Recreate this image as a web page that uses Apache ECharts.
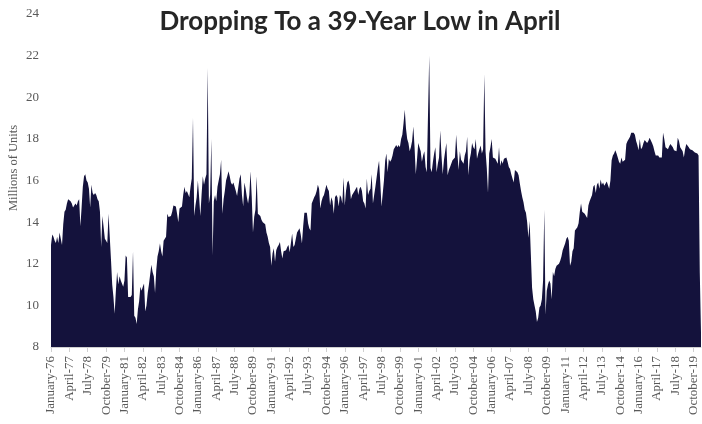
<!DOCTYPE html>
<html>
<head>
<meta charset="utf-8">
<script src="https://cdn.jsdelivr.net/npm/echarts@6/dist/echarts.min.js"></script>
<style>
  html, body { margin: 0; padding: 0; background: #ffffff; }
  #chart { width: 702px; height: 424px; }
</style>
</head>
<body>
<div id="chart"></div>
<script>
// Light vehicle sales, seasonally adjusted annual rate (millions of units), monthly.
const startYear = 1976;
const monthNames = ['January', 'February', 'March', 'April', 'May', 'June',
  'July', 'August', 'September', 'October', 'November', 'December'];

const sales1976to1979 = [
  12.9, 13.4, 13.3, 13.1, 13.0, 13.3, 13.0, 13.5, 13.5, 12.9, 13.9, 14.5,
  14.6, 14.9, 15.1, 15.1, 15.0, 14.9, 14.7, 14.8, 14.9, 14.8, 15.0, 15.1,
  13.8, 14.7, 15.7, 16.2, 16.3, 16.0, 15.9, 15.6, 14.7, 15.8, 15.4, 15.3,
  15.4, 15.3, 15.1, 15.0, 14.5, 12.8, 14.3, 14.3, 13.2, 13.1, 13.0, 14.4
];
const sales1980s = [
  13.3, 12.2, 11.0, 10.4, 9.6, 10.7, 11.6, 11.0, 11.4, 11.2, 11.2, 10.9,
  11.2, 12.4, 12.3, 10.4, 10.4, 10.4, 10.5, 12.6, 9.5, 9.4, 9.1, 9.8,
  10.2, 10.9, 10.7, 10.9, 11.05, 9.7, 10.0, 10.6, 11.0, 11.05, 11.95, 11.6,
  11.4, 10.6, 11.7, 12.35, 12.6, 12.97, 12.6, 12.35, 13.1, 13.2, 13.3, 14.4,
  14.25, 14.3, 14.3, 14.5, 14.8, 14.75, 14.75, 14.4, 14.0, 14.65, 14.7, 14.75,
  15.3, 15.7, 15.4, 15.5, 15.5, 15.2, 15.7, 16.1, 19.0, 14.3, 14.8, 15.2,
  16.0, 15.2, 14.3, 15.3, 16.2, 15.8, 16.1, 16.3, 21.4, 14.9, 15.3, 18.0,
  12.4, 15.0, 15.3, 15.0, 15.7, 16.0, 16.3, 17.0, 14.4, 15.1, 15.5, 16.0,
  16.2, 16.45, 16.2, 15.9, 15.8, 15.9, 15.7, 15.5, 15.25, 15.2, 16.1, 16.3,
  15.3, 14.75, 15.9, 15.6, 15.2, 14.9, 15.3, 16.45, 15.2, 13.5, 14.25, 14.6
];
const sales1990s = [
  16.2, 14.4, 14.35, 14.3, 14.1, 14.0, 14.0, 13.9, 13.5, 13.3, 13.0, 12.8,
  11.9, 12.5, 12.75, 12.1, 12.65, 12.8, 12.9, 13.05, 12.6, 12.25, 12.6, 12.65,
  12.65, 12.8, 12.9, 12.55, 12.6, 13.45, 12.8, 12.9, 12.97, 13.5, 13.6, 13.7,
  13.4, 12.97, 13.8, 14.45, 14.45, 14.45, 13.95, 13.7, 13.6, 14.9, 14.9, 15.2,
  15.3, 15.5, 15.8, 15.6, 14.65, 15.0, 15.2, 15.3, 15.3, 15.8, 15.6, 15.5,
  14.8, 15.2, 15.0, 14.4, 15.2, 15.3, 15.2, 14.75, 15.3, 15.2, 14.9, 16.15,
  14.8, 15.5, 15.9, 16.0, 15.75, 15.1, 15.3, 15.4, 15.5, 15.6, 15.7, 15.3,
  15.6, 15.7, 15.5, 15.0, 14.9, 14.65, 16.1, 15.3, 15.5, 15.6, 16.3, 14.9,
  15.3, 15.7, 16.15, 16.6, 16.95, 15.9, 14.75, 14.8, 16.0, 16.95, 17.3, 16.4,
  17.05, 16.9, 17.0, 17.2, 17.5, 17.6, 17.7, 17.6, 17.7, 17.6, 18.0, 18.2
];
const sales2000s = [
  18.75, 19.4, 18.5, 18.0, 17.8, 17.4, 17.6, 17.9, 18.6, 17.6, 16.3, 17.0,
  17.8, 17.6, 17.4, 16.9, 17.2, 17.4, 16.65, 16.4, 16.4, 22.0, 16.6, 16.4,
  16.9, 17.3, 17.6, 16.4, 16.8, 17.1, 18.4, 17.2, 16.3, 16.97, 17.4, 17.8,
  16.25, 16.5, 16.65, 16.65, 16.97, 17.05, 17.1, 18.2, 17.3, 16.5, 17.4, 17.0,
  16.97, 16.8, 17.2, 17.4, 18.1, 16.25, 17.0, 17.3, 17.8, 17.6, 17.5, 18.0,
  17.05, 17.3, 17.5, 17.68, 17.3, 17.5, 21.1, 17.4, 16.6, 15.4, 17.3, 17.6,
  18.0, 17.1, 17.05, 17.05, 17.0, 16.8, 17.6, 16.7, 16.97, 16.8, 17.05, 17.05,
  17.1, 16.9, 16.65, 16.55, 16.3, 16.1, 15.9, 16.5, 16.5, 16.4, 16.25, 15.85,
  15.5, 15.2, 14.95, 14.6, 14.45, 14.0, 13.25, 14.05, 12.45, 10.85, 10.3, 10.0,
  9.7, 9.2, 9.4, 9.9, 10.0, 10.3, 11.2, 14.6, 9.55, 10.7, 11.0, 11.2
];
const sales2010s = [
  11.05, 10.3, 11.6, 11.4, 11.75, 11.9, 11.9, 12.0, 12.15, 12.35, 12.65, 12.7,
  12.97, 13.2, 13.3, 13.1, 11.9, 12.1, 12.6, 12.75, 13.6, 13.6, 13.75, 13.95,
  14.5, 14.9, 14.5, 14.5, 14.4, 14.4, 14.2, 14.8, 15.0, 15.0, 15.3, 15.7,
  15.8, 15.4, 15.8, 15.9, 15.6, 16.05, 15.8, 15.9, 15.75, 15.7, 15.95, 15.9,
  15.6, 16.0, 16.97, 17.2, 17.3, 17.45, 17.3, 17.1, 16.9, 16.8, 17.1, 16.9,
  16.97, 17.0, 17.75, 17.9, 18.0, 18.1, 18.3, 18.3, 18.3, 18.2, 17.9, 17.7,
  17.45, 18.0, 17.5, 17.6, 17.8, 17.95, 17.95, 17.8, 17.9, 18.05, 18.0, 17.8,
  17.65, 17.4, 17.2, 17.2, 17.2, 17.1, 17.1, 17.1, 18.3, 18.0, 17.6, 17.6,
  17.5, 17.65, 17.75, 17.7, 17.6, 17.45, 17.4, 17.4, 18.05, 17.9, 17.6, 17.5,
  17.4, 17.1, 17.5, 17.75, 17.75, 17.6, 17.5, 17.5, 17.45, 17.4, 17.35, 17.3
];
const sales2020 = [17.3, 17.2, 11.6, 8.7];

const yTicks = { min: 8, max: 24, step: 2 };
const labelEvery = 15; // one axis label every 15 months

const sales = [].concat(sales1976to1979, sales1980s, sales1990s, sales2000s, sales2010s, sales2020);
const months = sales.map((_, i) => {
  const y = startYear + Math.floor(i / 12);
  return monthNames[i % 12] + '-' + String(y % 100).padStart(2, '0');
});

const chart = echarts.init(document.getElementById('chart'), null, { renderer: 'canvas' });
const serif = '"Liberation Serif", "DejaVu Serif", serif';

chart.setOption({
  animation: false,
  backgroundColor: '#ffffff',
  title: {
    text: 'Dropping To a 39-Year Low in April',
    left: 355,
    top: 4,
    textAlign: 'center',
    textStyle: {
      fontFamily: 'Lato, "Open Sans", sans-serif',
      fontWeight: 'bold',
      fontSize: 26,
      color: '#262626'
    }
  },
  graphic: [{
    type: 'text',
    x: 14,
    y: 168,
    rotation: Math.PI / 2,
    style: {
      text: 'Millions of Units',
      fill: '#595959',
      font: '12.5px ' + serif,
      textAlign: 'center',
      textVerticalAlign: 'middle'
    }
  }],
  grid: { left: 51, right: 1, top: 14, bottom: 77, containLabel: false },
  xAxis: {
    type: 'category',
    data: months,
    boundaryGap: false,
    axisLine: { show: true, lineStyle: { color: '#d0d0d0', width: 1 } },
    axisTick: { show: true, interval: labelEvery - 1, length: 5, lineStyle: { color: '#d0d0d0' } },
    axisLabel: {
      interval: labelEvery - 1,
      rotate: 90,
      margin: 9,
      color: '#595959',
      fontFamily: serif,
      fontSize: 13
    },
    splitLine: { show: false }
  },
  yAxis: {
    type: 'value',
    min: yTicks.min,
    max: yTicks.max,
    interval: yTicks.step,
    axisLine: { show: false },
    axisTick: { show: false },
    splitLine: { show: false },
    axisLabel: {
      margin: 12,
      color: '#595959',
      fontFamily: serif,
      fontSize: 13
    }
  },
  series: [{
    type: 'line',
    data: sales,
    symbol: 'none',
    smooth: false,
    lineStyle: { width: 0, color: '#14123c' },
    areaStyle: { color: '#14123c', opacity: 1, origin: 'start' },
    itemStyle: { color: '#14123c' }
  }]
});
</script>
</body>
</html>
